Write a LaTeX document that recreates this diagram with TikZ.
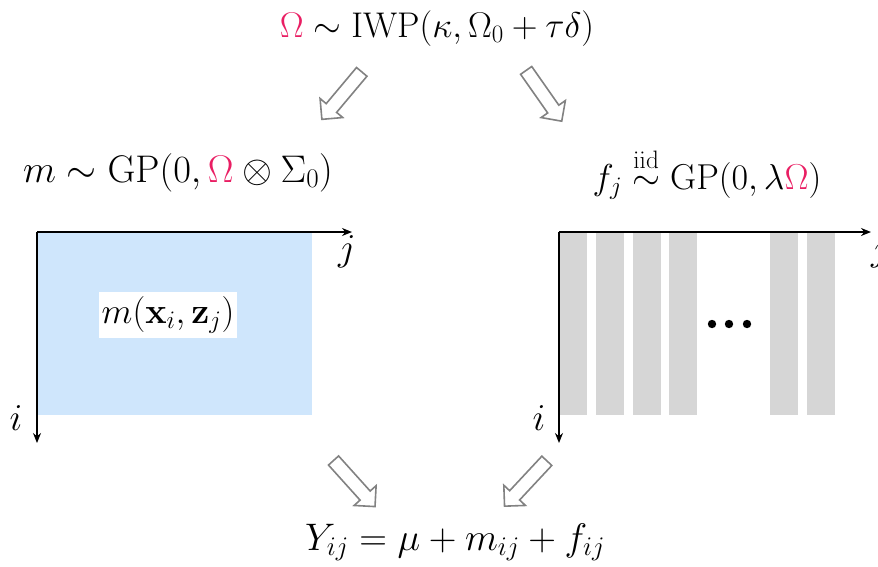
\documentclass[tikz,border=0pt]{standalone}
\usepackage{fix-cm}
\usepackage{amsmath,amssymb}
\usetikzlibrary{shapes.arrows,arrows.meta}
\definecolor{omred}{RGB}{233,30,99}
\definecolor{mblue}{RGB}{207,230,252}
\definecolor{bargray}{RGB}{214,214,214}
\definecolor{arrgray}{RGB}{130,130,130}
\tikzset{
  eq/.style={inner sep=0pt, anchor=base},
  fs/.style={font=\fontsize{#1}{#1}\selectfont},
  lbl/.style={font=\fontsize{38}{40}\selectfont, inner sep=0pt},
  blockarrow/.style={single arrow, draw=arrgray, fill=white, line width=1.6pt,
    minimum height=62pt, single arrow head extend=8pt,
    single arrow head indent=0pt, inner xsep=0pt, inner ysep=6pt},
  axis/.style={line width=1.6pt, -{Stealth[length=10pt,width=8pt]}},
  bar/.style={fill=bargray, draw=none}
}
\newcommand{\Om}{{\color{omred}\Omega}}
\begin{document}
\begin{tikzpicture}[x=1pt,y=-1pt]
\useasboundingbox (0,0) rectangle (878,566);
% equations
\node[eq, fs=35.7] (top) at (437,37) {$\Om \sim \mathrm{IWP}(\kappa, \Omega_0 + \tau\delta)$};
\node[eq, fs=38.5] (meq) at (178,182) {$m \sim \mathrm{GP}(0, \Om \otimes \Sigma_0)$};
\node[eq, fs=36] (feq) at (707,189) {$f_j \overset{\mathrm{iid}}{\sim} \mathrm{GP}(0, \lambda\Om)$};
\node[eq, fs=38.4] (yeq) at (455,550) {$Y_{ij} = \mu + m_{ij} + f_{ij}$};
% block arrows
\node[blockarrow, rotate=230] (a1) at (344,93) {};
\node[blockarrow, rotate=305] (a2) at (542,93) {};
\node[blockarrow, rotate=312] (a3) at (352,481) {};
\node[blockarrow, rotate=227] (a4) at (528,481) {};
% left panel
\coordinate (lo) at (37,232);
\fill[mblue] (lo) rectangle (312,415);
\draw[axis] (lo) -- (352,232);
\draw[axis] (lo) -- (37,443);
\node[lbl] (lj) at (347,252) {$j$};
\node[lbl] (li) at (16,418) {$i$};
\node[inner sep=0pt, fs=36, fill=white, inner xsep=3pt, inner ysep=4pt] (mlab) at (168,315) {$m(\mathbf{x}_i, \mathbf{z}_j)$};
% right panel
\coordinate (ro) at (559,232);
\foreach \x in {559,596,633,669,770,807}{
  \fill[bar] (\x,232) rectangle ++(28,183);
}
\draw[axis] (ro) -- (871,232);
\draw[axis] (ro) -- (559,443);
\node[lbl] (rj) at (880,252) {$j$};
\node[lbl] (ri) at (539,418) {$i$};
\foreach \x in {712,729,747}{
  \fill (\x,324) circle (4.2pt);
}
\end{tikzpicture}
\end{document}
